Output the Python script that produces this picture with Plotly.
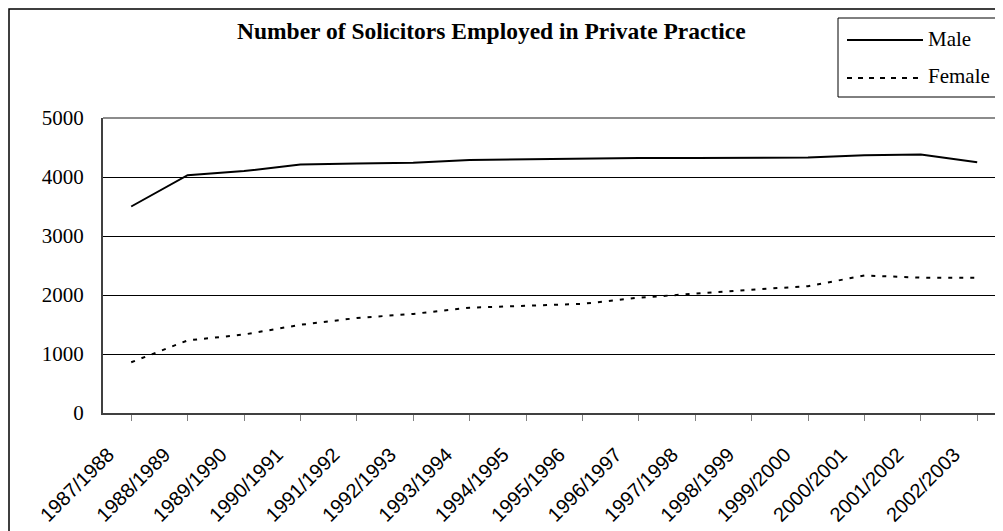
import plotly.graph_objects as go

years = ["1987/1988", "1988/1989", "1989/1990", "1990/1991", "1991/1992", "1992/1993",
         "1993/1994", "1994/1995", "1995/1996", "1996/1997", "1997/1998", "1998/1999",
         "1999/2000", "2000/2001", "2001/2002", "2002/2003"]
male = [3500, 4030, 4100, 4210, 4230, 4240, 4290, 4300, 4320, 4320, 4320, 4320, 4330, 4370, 4380, 4250]
female = [860, 1230, 1330, 1495, 1610, 1680, 1785, 1815, 1850, 1955, 2025, 2090, 2150, 2330, 2295, 2290]
y_ticks = [0, 1000, 2000, 3000, 4000, 5000]

# page is drawn with an 8px body margin; figure sized to fit the window
OFF = 8
W, H = 1003 - OFF, 531 - OFF
# plot area in page pixels: x 103..1003, y 118..413
PL, PR, PT, PB = 103, 1003, 118, 413
L, R, T, B = PL - OFF, 0, PT - OFF, H - (PB - OFF)
PW = PR - PL
PH = PB - PT

def px(x):  # page x -> paper
    return (x - PL) / PW

def py(y):  # page y -> paper
    return (PB - y) / PH

SERIF = "Liberation Serif, Times New Roman, serif"
SANS = "Liberation Sans, Arial, sans-serif"

fig = go.Figure()
fig.add_trace(go.Scatter(x=list(range(len(years))), y=male, mode="lines", name="Male",
                         line=dict(color="black", width=2), showlegend=False))
fig.add_trace(go.Scatter(x=list(range(len(years))), y=female, mode="lines", name="Female",
                         line=dict(color="black", width=2, dash="4px,7px"), showlegend=False))

step = 56.4
fig.update_xaxes(range=[-0.5, -0.5 + PW / step], tickmode="array",
                 tickvals=list(range(len(years))), ticktext=years, tickangle=-45,
                 showgrid=False, showline=True, linecolor="#404040", linewidth=2,
                 ticks="outside", ticklen=6, tickcolor="#808080", tickwidth=1,
                 tickson="boundaries", zeroline=False,
                 tickfont=dict(family=SANS, size=20, color="black"),
                 ticklabelshift=-23, ticklabelstandoff=14, fixedrange=True)
fig.update_yaxes(range=[0, 5000], tickmode="array", tickvals=y_ticks,
                 showgrid=True, gridcolor="black", gridwidth=1,
                 showline=True, linecolor="#404040", linewidth=2, ticks="",
                 zeroline=False, tickfont=dict(family=SERIF, size=21, color="black"),
                 ticklabelstandoff=13, fixedrange=True)

shapes = [
    # plot-area top border
    dict(type="line", xref="paper", yref="paper", x0=0, x1=1, y0=1, y1=1,
         line=dict(color="#8c8c8c", width=2)),
    # outer chart border
    dict(type="rect", xref="paper", yref="paper", x0=px(OFF + 1), x1=px(1015), y0=py(545), y1=py(OFF + 1),
         line=dict(color="black", width=1.5)),
    # legend box
    dict(type="rect", xref="paper", yref="paper", x0=px(838), x1=px(1002), y0=py(97), y1=py(18),
         line=dict(color="black", width=1), fillcolor="white"),
    dict(type="line", xref="paper", yref="paper", x0=px(847), x1=px(923), y0=py(40), y1=py(40),
         line=dict(color="black", width=2)),
    dict(type="line", xref="paper", yref="paper", x0=px(847), x1=px(923), y0=py(78), y1=py(78),
         line=dict(color="black", width=2, dash="5px,6px")),
]

annotations = [
    dict(text="<b>Number of Solicitors Employed in Private Practice</b>", xref="paper", yref="paper",
         x=px(491.5), y=py(31), xanchor="center", yanchor="middle", showarrow=False,
         font=dict(family=SERIF, size=23.5, color="black")),
    dict(text="Male", xref="paper", yref="paper", x=px(926), y=py(39), xanchor="left",
         yanchor="middle", showarrow=False, font=dict(family=SERIF, size=21, color="black")),
    dict(text="Female", xref="paper", yref="paper", x=px(926), y=py(76), xanchor="left",
         yanchor="middle", showarrow=False, font=dict(family=SERIF, size=21, color="black")),
]

fig.update_layout(width=W, height=H, margin=dict(l=L, r=R, t=T, b=B, pad=0),
                  plot_bgcolor="white", paper_bgcolor="white", showlegend=False,
                  shapes=shapes, annotations=annotations)

fig.write_html("out.html", config={"displayModeBar": False})
